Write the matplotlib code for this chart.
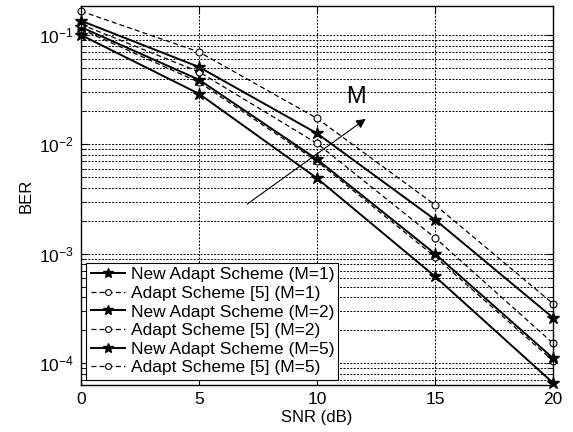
import matplotlib
matplotlib.use("Agg")
import matplotlib.pyplot as plt
import numpy as np
from matplotlib.ticker import LogLocator, NullFormatter

plt.rcParams['font.family'] = ['Liberation Sans', 'DejaVu Sans']

snr = [0, 5, 10, 15, 20]
new_m1 = [0.100, 0.029, 4.9e-3, 6.2e-4, 6.6e-5]
old_m1 = [0.113, 0.037, 7.0e-3, 9.4e-4, 1.05e-4]
new_m2 = [0.118, 0.039, 7.3e-3, 1.0e-3, 1.11e-4]
old_m2 = [0.125, 0.046, 0.0102, 1.40e-3, 1.52e-4]
new_m5 = [0.135, 0.051, 0.0126, 2.05e-3, 2.6e-4]
old_m5 = [0.165, 0.070, 0.0173, 2.8e-3, 3.5e-4]

labels = ["New Adapt Scheme (M=1)", "Adapt Scheme [5] (M=1)",
          "New Adapt Scheme (M=2)", "Adapt Scheme [5] (M=2)",
          "New Adapt Scheme (M=5)", "Adapt Scheme [5] (M=5)"]
series = [new_m1, old_m1, new_m2, old_m2, new_m5, old_m5]

fig = plt.figure(figsize=(5.73, 4.32), dpi=100)
ax = fig.add_axes([0.1414, 0.1088, 0.8236, 0.8772])

for i, (lab, ys) in enumerate(zip(labels, series)):
    if i % 2 == 0:
        ax.plot(snr, ys, '-', color='black', lw=1.4, marker='*', ms=9,
                mfc='black', mec='black', label=lab, clip_on=False)
    else:
        ax.plot(snr, ys, '--', color='black', lw=0.9, marker='o', ms=5,
                mfc='white', mec='black', mew=0.8, label=lab, dashes=(4, 2.5),
                clip_on=False)

ax.set_yscale('log')
ax.set_xlim(0, 20)
ax.set_ylim(6.3e-5, 0.184)
ax.set_xticks([0, 5, 10, 15, 20])
ax.yaxis.set_major_locator(LogLocator(base=10, numticks=10))
ax.yaxis.set_minor_locator(LogLocator(base=10, subs=np.arange(2, 10), numticks=20))
ax.yaxis.set_minor_formatter(NullFormatter())

ax.grid(True, which='major', axis='both', linestyle=(0, (2, 1.5)), color='black', lw=0.7)
ax.grid(True, which='minor', axis='y', linestyle=(0, (2, 1.5)), color='black', lw=0.7)

ax.tick_params(which='both', direction='in', top=True, right=True, labelsize=12.5)
ax.tick_params(which='major', length=5, pad=5)
ax.tick_params(which='minor', length=3)
for s in ax.spines.values():
    s.set_linewidth(1.0)

ax.set_xlabel('SNR (dB)', fontsize=12, labelpad=2)
ax.set_ylabel('BER', fontsize=12, labelpad=4)

ax.annotate('', xy=(12.16, 0.0177), xytext=(6.95, 2.75e-3),
            arrowprops=dict(arrowstyle='-|>', color='black', lw=0.8,
                            mutation_scale=14))
ax.text(11.65, 0.027, 'M', fontsize=17, ha='center', va='center')

leg = ax.legend(loc='lower left', fontsize=12.5, frameon=True, fancybox=False,
                edgecolor='black', framealpha=1, borderaxespad=0.3,
                handlelength=2.0, labelspacing=0.2, borderpad=0.25,
                handletextpad=0.3, markerscale=0.85)
leg.get_frame().set_linewidth(0.8)

fig.savefig('out.png', dpi=100)
